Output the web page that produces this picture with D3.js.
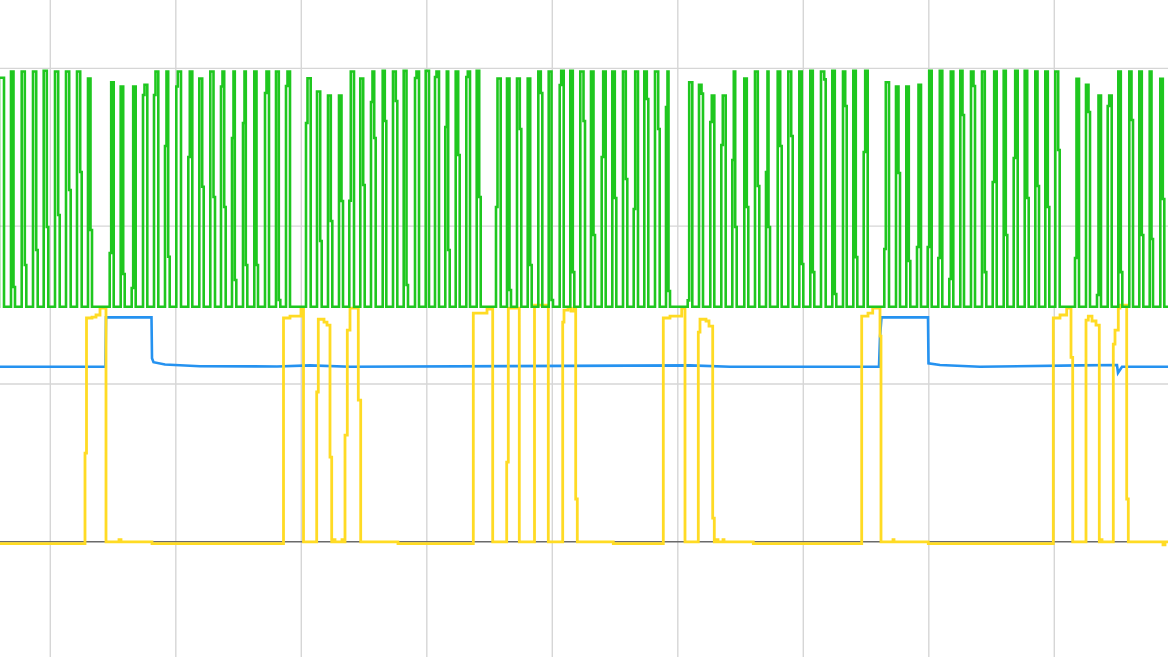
<!DOCTYPE html>
<html><head><meta charset="utf-8">
<script src="https://cdn.jsdelivr.net/npm/d3@7/dist/d3.min.js"></script>
<style>html,body{margin:0;padding:0;background:#fff;overflow:hidden}</style>
</head><body>
<svg id="chart" width="1168" height="657"></svg>
<script>
// time in ms, amplitude in V
const gridTimes = [5.03, 17.58, 30.13, 42.68, 55.23, 67.78, 80.33, 92.88, 105.43];
const gridVolts = [1, 2, 3];
const zeroVolt = 0;
const greenLow = 1.489;

const greenRise = [-0.1, 1.10, 2.17, 3.30, 4.37, 5.50, 6.60, 7.70, 8.80,
 10.97, 12.07, 13.17, 14.30, 15.40, 16.50, 17.63, 18.83, 19.93, 21.03, 22.10, 23.20, 24.30, 25.43, 26.50, 27.60, 28.60,
 30.60, 31.70, 32.80, 33.90, 34.93, 36.03, 37.10, 38.27, 39.30, 40.37, 41.50, 42.57, 43.50, 44.53, 45.57, 46.63, 47.67,
 49.60, 50.70, 51.70, 52.77, 53.83, 54.87, 55.97, 57.03, 58.03, 59.10, 60.17, 61.23, 62.30, 63.37, 64.43, 65.50, 66.60,
 68.77, 69.90, 71.03, 72.13, 73.23, 74.43, 75.50, 76.60, 77.77, 78.83, 79.93, 81.03, 82.10, 83.23, 84.30, 85.33, 86.37,
 88.43, 89.60, 90.63, 91.70, 92.77, 93.83, 94.93, 96.03, 97.10, 98.20, 99.27, 100.37, 101.37, 102.47, 103.53, 104.53, 105.53,
 107.50, 108.60, 109.70, 110.77, 111.83, 112.93, 113.93, 114.97, 116.03];
const greenFall = [0.40, 1.50, 2.63, 3.77, 4.83, 5.97, 7.07, 8.17, 9.20,
 11.37, 12.47, 13.57, 14.73, 15.83, 16.97, 18.10, 19.23, 20.37, 21.50, 22.57, 23.63, 24.73, 25.80, 26.90, 28.03, 29.00,
 31.07, 32.17, 33.23, 34.30, 35.40, 36.47, 37.57, 38.63, 39.73, 40.80, 41.90, 42.90, 43.90, 44.97, 45.97, 47.00, 48.07,
 50.07, 51.10, 52.13, 53.17, 54.23, 55.30, 56.37, 57.43, 58.50, 59.50, 60.57, 61.63, 62.73, 63.80, 64.83, 65.97, 67.00,
 69.23, 70.30, 71.43, 72.57, 73.67, 74.83, 75.93, 77.00, 78.17, 79.27, 80.33, 81.43, 82.57, 83.63, 84.67, 85.73, 86.77,
 88.90, 90.00, 91.03, 92.10, 93.17, 94.23, 95.33, 96.40, 97.50, 98.63, 99.67, 100.73, 101.77, 102.87, 103.90, 104.93, 105.97,
 107.90, 109.00, 110.10, 111.17, 112.23, 113.30, 114.33, 115.30, 116.43];
const greenTop = [2.94, 2.98, 2.98, 2.98, 2.985, 2.98, 2.98, 2.98, 2.935,
 2.912, 2.885, 2.885, 2.896, 2.98, 2.98, 2.98, 2.98, 2.936, 2.98, 2.98, 2.98, 2.98, 2.98, 2.98, 2.98, 2.98,
 2.937, 2.853, 2.828, 2.828, 2.98, 2.936, 2.98, 2.984, 2.98, 2.984, 2.98, 2.984, 2.98, 2.98, 2.98, 2.98, 2.984,
 2.936, 2.936, 2.936, 2.936, 2.98, 2.98, 2.984, 2.984, 2.98, 2.98, 2.98, 2.98, 2.98, 2.98, 2.98, 2.98, 2.98,
 2.912, 2.896, 2.828, 2.828, 2.98, 2.936, 2.98, 2.98, 2.98, 2.98, 2.98, 2.984, 2.98, 2.984, 2.98, 2.984, 2.984,
 2.912, 2.885, 2.885, 2.896, 2.984, 2.984, 2.98, 2.984, 2.98, 2.98, 2.98, 2.984, 2.984, 2.984, 2.98, 2.98, 2.98,
 2.934, 2.896, 2.828, 2.828, 2.98, 2.98, 2.98, 2.98, 2.934];
const greenStepUp = [null, null, null, null, null, null, null, null, null,
 1.830, null, 1.608, 2.831, 2.831, 2.508, 2.885, 2.438, null, null, 2.885, 2.559, 2.654, null, 2.844, null, 2.888,
 2.654, null, null, null, 2.161, null, 2.787, null, null, null, 2.939, null, 2.945, 2.628, null, 2.945, null,
 2.121, null, null, null, null, null, 2.894, null, null, null, 2.438, null, null, 2.109, null, null, 2.755,
 1.53, null, 2.660, 2.514, 2.419, null, null, 2.343, null, null, null, null, null, null, null, null, 2.470,
 1.855, null, null, 1.868, 1.868, 1.798, 1.665, null, null, null, 2.280, null, 2.432, null, null, null, null,
 1.798, null, 1.564, 2.761, null, null, null, null, null];
const greenStepDown = [null, 1.614, 1.754, 1.849, 1.995, 2.071, 2.229, 2.343, 1.976,
 null, 1.697, null, null, null, 1.806, null, null, 2.25, 2.185, 2.121, 1.659, 1.754, 1.754, null, 1.532, null,
 null, 1.906, 2.033, 2.159, null, 2.261, 2.559, 2.666, 2.793, 1.627, null, null, null, 1.849, 2.451, null, 2.185,
 null, 1.595, 2.616, 1.754, 2.844, 1.532, null, 1.709, 2.666, 1.944, null, 2.178, 2.299, null, 2.806, 2.616, 1.589,
 null, 2.84, null, null, 1.995, 2.121, 2.254, 1.995, 2.508, 2.571, 1.760, 1.709, 2.93, 1.570, 2.761, 1.804, null,
 null, 2.337, 1.779, null, null, null, null, 2.704, 2.888, 1.709, null, 1.944, null, 2.178, 2.254, 2.121, 2.483,
 null, 2.723, null, null, 1.709, 2.673, 1.944, 1.919, 2.172];
const greenSampleStep = 0.15;

const yellowT = [0, 8.50, 8.65, 9.2, 9.6, 10.0, 10.6, 11.9, 12.1, 15.2,
 28.35, 29.0, 30.1, 30.35, 31.67, 31.83, 32.4, 32.7, 33.0, 33.17, 33.4, 33.5, 34.2, 34.3,
 34.5, 34.73, 35.0, 35.83, 36.07, 39.8,
 47.33, 48.7, 49.27, 50.67, 50.83, 51.93, 53.45, 54.83,
 56.27, 56.4, 56.8, 57.1, 57.4, 57.57, 57.73, 61.33,
 66.33, 67.0, 68.17, 68.5, 69.83, 70.0, 70.6, 70.9, 71.27, 71.43, 71.7, 71.8, 72.3, 72.4, 75.33,
 86.17, 86.8, 87.27, 88.0, 88.1, 89.3, 89.4, 92.83,
 105.33, 106.0, 106.67, 107.1, 107.27, 108.6, 108.83, 109.2, 109.6, 109.93, 110.1, 110.2,
 111.33, 111.5, 111.83, 112.0, 112.67, 112.83, 116.3, 116.5, 116.8];
const yellowV = [-0.012, 0.562, 1.418, 1.424, 1.437, 1.481, 0, 0.014, 0, -0.012,
 1.418, 1.43, 1.481, 0, 0.949, 1.41, 1.392, 1.373, 0.537, 0, 0.014, 0, 0.014, 0,
 0.676, 1.341, 1.481, 0.898, 0, -0.012,
 1.449, 1.474, 0, 0.505, 1.481, 0, 1.50, 0,
 1.392, 1.468, 1.481, 1.462, 1.481, 0.271, 0, -0.012,
 1.418, 1.43, 1.481, 0, 1.329, 1.41, 1.399, 1.367, 0.150, 0, 0.014, 0, 0.014, 0, -0.012,
 1.43, 1.449, 1.481, 1.303, 0, 0.014, 0, -0.012,
 1.418, 1.437, 1.481, 1.169, 0, 1.405, 1.43, 1.399, 1.373, 0, 0.014, 0,
 1.252, 1.341, 1.481, 1.5, 0.271, 0, -0.02, 0, 0];

const blueT = [0, 10.55, 10.6, 15.15, 15.2, 15.35, 16.5, 20, 27.7, 31, 35, 69, 73,
 87.9, 88.0, 88.15, 92.8, 92.85, 94, 98, 108, 111.7, 111.8, 112.2, 116.8];
const blueV = [1.109, 1.109, 1.422, 1.422, 1.163, 1.138, 1.123, 1.112, 1.111, 1.118, 1.109, 1.118, 1.109,
 1.109, 1.297, 1.422, 1.422, 1.131, 1.12, 1.109, 1.118, 1.12, 1.07, 1.109, 1.109];

const W = 1168, H = 657;
const svg = d3.select('#chart');
const x = d3.scaleLinear().domain([0, 116.8]).range([0, W]);
const y = d3.scaleLinear().domain([-0.73, 3.433]).range([H, 0]);

// grid
svg.append('g').selectAll('line').data(gridTimes).join('line')
  .attr('x1', d => x(d)).attr('x2', d => x(d)).attr('y1', 0).attr('y2', H)
  .attr('stroke', '#d6d6d6').attr('stroke-width', 1.4);
svg.append('g').selectAll('line').data(gridVolts).join('line')
  .attr('x1', 0).attr('x2', W).attr('y1', d => y(d)).attr('y2', d => y(d))
  .attr('stroke', '#d6d6d6').attr('stroke-width', 1.4);
svg.append('line').attr('x1', 0).attr('x2', W).attr('y1', y(zeroVolt)).attr('y2', y(zeroVolt))
  .attr('stroke', '#6a6a6a').attr('stroke-width', 1.4);

// blue
const blueData = blueT.map((t, i) => [t, blueV[i]]);
svg.append('path').datum(blueData)
  .attr('d', d3.line().x(d => x(d[0])).y(d => y(d[1])))
  .attr('fill', 'none').attr('stroke', '#2592f0').attr('stroke-width', 2.6);

// yellow
const yellowData = yellowT.map((t, i) => [t, yellowV[i]]);
svg.append('path').datum(yellowData)
  .attr('d', d3.line().curve(d3.curveStepAfter).x(d => x(d[0])).y(d => y(d[1])))
  .attr('fill', 'none').attr('stroke', '#ffdb24').attr('stroke-width', 2.8)
  .attr('stroke-linejoin', 'miter');

// green
const gPts = [[-1, greenLow]];
greenRise.forEach((r, i) => {
  const f = greenFall[i], top = greenTop[i], up = greenStepUp[i], dn = greenStepDown[i];
  if (up !== null) { gPts.push([r, up]); gPts.push([r + greenSampleStep, top]); }
  else gPts.push([r, top]);
  if (dn !== null) { gPts.push([f - greenSampleStep, dn]); gPts.push([f, greenLow]); }
  else gPts.push([f, greenLow]);
});
gPts.push([118, greenLow]);
svg.append('path').datum(gPts)
  .attr('d', d3.line().curve(d3.curveStepAfter).x(d => x(d[0])).y(d => y(d[1])))
  .attr('fill', 'none').attr('stroke', '#1fc71f').attr('stroke-width', 2.6)
  .attr('stroke-linejoin', 'miter');
</script>
</body></html>
